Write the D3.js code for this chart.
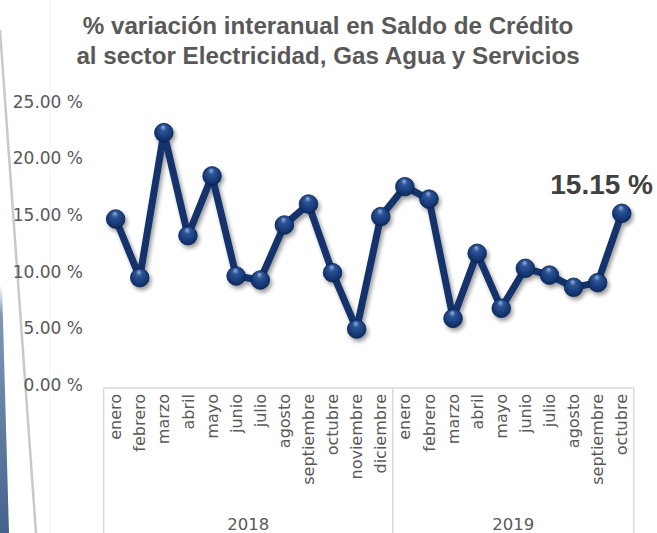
<!DOCTYPE html>
<html>
<head>
<meta charset="utf-8">
<script src="https://cdn.jsdelivr.net/npm/d3@7"></script>
<style>
  body { margin: 0; background: #fff; }
  svg { display: block; }
</style>
</head>
<body>
<div id="chart"></div>
<script>
(function(){

    const width = 657;
    const height = 533;

    // data
    const years = ['2018', '2019'];
    const months2018 = ['enero','febrero','marzo','abril','mayo','junio','julio','agosto','septiembre','octubre','noviembre','diciembre'];
    const months2019 = ['enero','febrero','marzo','abril','mayo','junio','julio','agosto','septiembre','octubre'];
    const values2018 = [14.65, 9.47, 22.27, 13.18, 18.45, 9.62, 9.27, 14.12, 15.97, 9.91, 4.94, 14.86];
    const values2019 = [17.5, 16.4, 5.88, 11.62, 6.77, 10.3, 9.7, 8.62, 9.03, 15.15];
    const yTicks = [0, 5, 10, 15, 20, 25];
    const title = ['% variación interanual en Saldo de Crédito', 'al sector Electricidad, Gas Agua y Servicios'];

    const points = [];
    months2018.forEach(function(m, i){ points.push({year: '2018', month: m, value: values2018[i], key: '2018-' + i}) });
    months2019.forEach(function(m, i){ points.push({year: '2019', month: m, value: values2019[i], key: '2019-' + i}) });

    const axisFont = '"DejaVu Sans", sans-serif';
    const textColor = '#595959';

    const svg = d3.select('#chart')
        .append('svg')
        .attr('width', width)
        .attr('height', height);

    const defs = svg.append('defs');

    // glossy marker
    const grad = defs.append('radialGradient')
        .attr('id', 'ball')
        .attr('cx', '50%').attr('cy', '45%').attr('r', '60%')
        .attr('fx', '45%').attr('fy', '18%');
    grad.append('stop').attr('offset', '0%').attr('stop-color', '#9bb3dd');
    grad.append('stop').attr('offset', '28%').attr('stop-color', '#2d5496');
    grad.append('stop').attr('offset', '70%').attr('stop-color', '#163a78');
    grad.append('stop').attr('offset', '100%').attr('stop-color', '#0b2656');

    const shadow = defs.append('filter')
        .attr('id', 'shadow')
        .attr('x', '-20%').attr('y', '-20%').attr('width', '140%').attr('height', '140%');
    shadow.append('feGaussianBlur').attr('in', 'SourceAlpha').attr('stdDeviation', 2.2).attr('result', 'b');
    shadow.append('feOffset').attr('in', 'b').attr('dx', 2).attr('dy', 3).attr('result', 'o');
    shadow.append('feComponentTransfer').attr('in', 'o').attr('result', 's')
        .append('feFuncA').attr('type', 'linear').attr('slope', 0.4);
    const merge = shadow.append('feMerge');
    merge.append('feMergeNode').attr('in', 's');
    merge.append('feMergeNode').attr('in', 'SourceGraphic');

    const barGrad = defs.append('linearGradient')
        .attr('id', 'bar').attr('x1', 0).attr('y1', 0).attr('x2', 0).attr('y2', 1);
    barGrad.append('stop').attr('offset', '0%').attr('stop-color', '#ffffff');
    barGrad.append('stop').attr('offset', '12%').attr('stop-color', '#7f97b8');
    barGrad.append('stop').attr('offset', '100%').attr('stop-color', '#44638c');

    // slide decoration on the left
    svg.append('line')
        .attr('x1', 50).attr('y1', 0).attr('x2', 50).attr('y2', height)
        .attr('stroke', '#f3f3f3').attr('stroke-width', 1);
    svg.append('path')
        .attr('d', 'M0,285 L2,285 L9,533 L0,533 Z')
        .attr('fill', 'url(#bar)');
    svg.append('line')
        .attr('x1', 0).attr('y1', 30).attr('x2', 36).attr('y2', height)
        .attr('stroke', '#c9c9c9').attr('stroke-width', 2.5);

    // title
    svg.append('g').selectAll('text')
        .data(title)
        .enter().append('text')
        .attr('x', 328)
        .attr('y', function(d, i){ return 33.5 + i * 30 })
        .attr('text-anchor', 'middle')
        .attr('font-family', '"Liberation Sans", Arial, sans-serif')
        .attr('font-weight', 'bold')
        .attr('font-size', 24.2)
        .attr('fill', textColor)
        .text(function(d){ return d });

    // scales
    const x = d3.scaleBand()
        .domain(points.map(function(d){ return d.key }))
        .range([103.6, 633.8]);

    const y = d3.scaleLinear()
        .domain([0, 25])
        .range([385, 101.7]);

    // y labels
    const yAxis = d3.axisLeft(y)
        .tickValues(yTicks)
        .tickSize(0)
        .tickFormat(function(d){ return d3.format('.2f')(d) + ' %' });

    svg.append('g')
        .attr('transform', 'translate(83,0)')
        .call(yAxis)
        .call(function(g){ g.select('.domain').remove() })
        .selectAll('text')
        .attr('x', 0)
        .attr('font-family', axisFont)
        .attr('font-size', 17)
        .attr('fill', textColor);

    // category box
    const axisTop = 388;
    const boxColor = '#d9d9d9';
    const xLeft = x.range()[0];
    const xRight = x.range()[1];
    const xSplit = x('2019-0');

    svg.append('line')
        .attr('x1', xLeft).attr('x2', xRight).attr('y1', axisTop).attr('y2', axisTop)
        .attr('stroke', boxColor).attr('stroke-width', 1.5);
    svg.append('g').selectAll('line')
        .data([xLeft, xSplit, xRight])
        .enter().append('line')
        .attr('x1', function(d){ return d }).attr('x2', function(d){ return d })
        .attr('y1', axisTop).attr('y2', height)
        .attr('stroke', boxColor).attr('stroke-width', 1.5);

    // month labels
    svg.append('g').selectAll('text')
        .data(points)
        .enter().append('text')
        .attr('transform', function(d){
            return 'translate(' + (x(d.key) + x.bandwidth() / 2) + ',' + (axisTop + 6) + ') rotate(-90)';
        })
        .attr('dy', '0.35em')
        .attr('text-anchor', 'end')
        .attr('font-family', axisFont)
        .attr('font-size', 16)
        .attr('fill', textColor)
        .text(function(d){ return d.month });

    // year labels
    const yearSpan = [[xLeft, xSplit], [xSplit, xRight]];
    svg.append('g').selectAll('text')
        .data(years)
        .enter().append('text')
        .attr('x', function(d, i){ return (yearSpan[i][0] + yearSpan[i][1]) / 2 })
        .attr('y', 530)
        .attr('text-anchor', 'middle')
        .attr('font-family', axisFont)
        .attr('font-size', 16.5)
        .attr('fill', textColor)
        .text(function(d){ return d });

    // line + markers
    const line = d3.line()
        .x(function(d){ return x(d.key) + x.bandwidth() / 2 })
        .y(function(d){ return y(d.value) });

    const series = svg.append('g').attr('filter', 'url(#shadow)');

    series.append('path')
        .datum(points)
        .attr('d', line)
        .attr('fill', 'none')
        .attr('stroke', '#12316b')
        .attr('stroke-width', 7)
        .attr('stroke-linejoin', 'round');

    series.selectAll('circle')
        .data(points)
        .enter().append('circle')
        .attr('cx', function(d){ return x(d.key) + x.bandwidth() / 2 })
        .attr('cy', function(d){ return y(d.value) })
        .attr('r', 9.3)
        .attr('fill', 'url(#ball)')
        .attr('stroke', '#0b2452')
        .attr('stroke-width', 0.8);

    // label on last value
    const last = points[points.length - 1];
    svg.append('text')
        .attr('x', 653)
        .attr('y', 194)
        .attr('text-anchor', 'end')
        .attr('font-family', '"Liberation Sans", Arial, sans-serif')
        .attr('font-weight', 'bold')
        .attr('font-size', 28)
        .attr('fill', '#404040')
        .text(d3.format('.2f')(last.value) + ' %');

}());
</script>
</body>
</html>
